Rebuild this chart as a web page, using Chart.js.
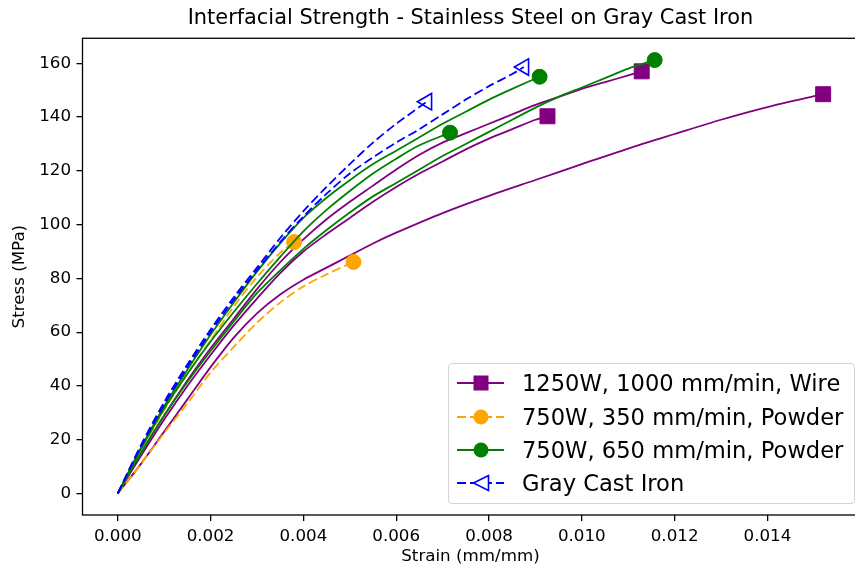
<!DOCTYPE html>
<html>
<head>
<meta charset="utf-8">
<script src="https://cdn.jsdelivr.net/npm/chart.js@4.4.1/dist/chart.umd.min.js"></script>
<style>
  html, body { margin: 0; padding: 0; background: #fff; overflow: hidden; }
  #wrap { position: relative; width: 870px; height: 570px; }
  #legend {
    position: absolute; left: 448px; top: 363px; width: 407px; height: 141px;
    box-sizing: border-box; border: 1px solid #d4d4d4; border-radius: 4px;
    background: rgba(255,255,255,0.8);
    font-family: "DejaVu Sans", sans-serif; font-size: 22.6px; color: #000;
  }
  .legend-row { position: absolute; left: 0; height: 34px; width: 100%; }
  .legend-row svg { position: absolute; left: 7px; top: 2px; }
  .legend-row span { position: absolute; left: 73px; top: 0; line-height: 34px; white-space: nowrap; }
</style>
</head>
<body>
<div id="wrap">
  <canvas id="strengthChart" width="870" height="570"></canvas>
  <div id="legend"></div>
</div>
<script>
// === Axis ticks ===
const xTicks = [0, 0.002, 0.004, 0.006, 0.008, 0.010, 0.012, 0.014];
const yTicks = [0, 20, 40, 60, 80, 100, 120, 140, 160];

// === Series names (legend) ===
const seriesNames = [
  "1250W, 1000 mm/min, Wire",
  "750W, 350 mm/min, Powder",
  "750W, 650 mm/min, Powder",
  "Gray Cast Iron"
];

// === 1250W wire samples (strain mm/mm, stress MPa) ===
const wireA_strain = [0, 0.0005, 0.001, 0.0015, 0.002, 0.0025, 0.003, 0.0035, 0.004, 0.0045, 0.005, 0.0055, 0.006, 0.0065, 0.007, 0.0075, 0.008, 0.0085, 0.009, 0.00926];
const wireA_stress = [0, 14, 27.5, 40, 51.5, 62.5, 72.5, 82, 90, 96.5, 102.5, 108.5, 114, 119, 123.5, 128, 132, 135.5, 139, 140.3];
const wireB_strain = [0, 0.0005, 0.001, 0.0015, 0.002, 0.0025, 0.003, 0.0035, 0.004, 0.0045, 0.005, 0.0055, 0.006, 0.0065, 0.007, 0.0075, 0.008, 0.0085, 0.009, 0.0095, 0.010, 0.0105, 0.011, 0.01129];
const wireB_stress = [0, 15, 29, 42, 54, 65, 76, 86, 94.5, 102, 108.5, 114.5, 120.5, 126, 130.5, 134, 137.5, 141, 144.5, 147.5, 150.5, 153, 155.5, 157];
const wireC_strain = [0, 0.0005, 0.001, 0.0015, 0.002, 0.0025, 0.003, 0.0035, 0.004, 0.0045, 0.005, 0.0055, 0.006, 0.007, 0.008, 0.009, 0.010, 0.011, 0.012, 0.013, 0.014, 0.0152];
const wireC_stress = [0, 11, 23, 35, 47, 58, 67, 74, 79.5, 84, 88.5, 93, 97, 104.3, 110.7, 116.6, 122.5, 128.3, 133.7, 139, 143.7, 148.5];

// === 750W 350 mm/min powder samples ===
const p350A_strain = [0, 0.0005, 0.001, 0.0015, 0.002, 0.0025, 0.003, 0.0035, 0.0038];
const p350A_stress = [0, 16, 31, 44.5, 57, 69.5, 80.5, 89.5, 93.5];
const p350B_strain = [0, 0.0005, 0.001, 0.0015, 0.002, 0.0025, 0.003, 0.0035, 0.004, 0.0045, 0.00508];
const p350B_stress = [0, 11, 22.5, 33.5, 45, 54.5, 63.5, 71, 77, 81.5, 86.1];

// === 750W 650 mm/min powder samples ===
const p650A_strain = [0, 0.0005, 0.001, 0.0015, 0.002, 0.0025, 0.003, 0.0035, 0.004, 0.0045, 0.005, 0.0055, 0.006, 0.0065, 0.00716];
const p650A_stress = [0, 16.5, 31.5, 44.5, 56.5, 67.5, 78, 88, 97.5, 105.5, 112.5, 119, 124.5, 129.5, 134.2];
const p650B_strain = [0, 0.0005, 0.001, 0.0015, 0.002, 0.0025, 0.003, 0.0035, 0.004, 0.0045, 0.005, 0.0055, 0.006, 0.0065, 0.007, 0.0075, 0.008, 0.0085, 0.00909];
const p650B_stress = [0, 17, 32.5, 46, 59, 71, 82.5, 93, 102.5, 110, 116.5, 122.5, 127.5, 132.5, 137.5, 142, 146.5, 150.5, 155];
const p650C_strain = [0, 0.0005, 0.001, 0.0015, 0.002, 0.0025, 0.003, 0.0035, 0.004, 0.0045, 0.005, 0.0055, 0.006, 0.0065, 0.007, 0.0075, 0.008, 0.0085, 0.009, 0.0095, 0.010, 0.0105, 0.011, 0.01157];
const p650C_stress = [0, 15, 29, 41.5, 53, 64, 74.5, 83, 91, 98, 104.5, 110.5, 115.5, 120.5, 125.5, 130, 134.5, 139, 143.5, 147.5, 151, 154.5, 158, 161.2];

// === Gray cast iron samples ===
const ironA_strain = [0, 0.0005, 0.001, 0.0015, 0.002, 0.0025, 0.003, 0.0035, 0.004, 0.0045, 0.005, 0.0055, 0.006, 0.00666];
const ironA_stress = [0, 18, 34, 48, 61, 73, 84, 95, 105, 114, 122.5, 130.5, 137.5, 145.7];
const ironB_strain = [0, 0.0005, 0.001, 0.0015, 0.002, 0.0025, 0.003, 0.0035, 0.004, 0.0045, 0.005, 0.0055, 0.006, 0.0065, 0.007, 0.0075, 0.008, 0.0085, 0.00875];
const ironB_stress = [0, 17.5, 33, 47, 60, 72, 83, 93.5, 103, 111.5, 119, 125, 130.5, 135.5, 141, 146.5, 151.5, 156, 158.6];

// === Styles per series ===
const seriesStyles = [
  { color: "#800080", dash: [], marker: "rect", radius: 10.6, fill: "#800080", rotation: 0, order: 4 },
  { color: "#ffa500", dash: [9, 4], marker: "circle", radius: 7.5, fill: "#ffa500", rotation: 0, order: 3 },
  { color: "#008000", dash: [], marker: "circle", radius: 7.5, fill: "#008000", rotation: 0, order: 2 },
  { color: "#0000ff", dash: [9, 4], marker: "triangle", radius: 9.5, fill: "rgba(0,0,0,0)", rotation: -90, order: 1 }
];

const seriesCurves = [
  [[wireA_strain, wireA_stress], [wireB_strain, wireB_stress], [wireC_strain, wireC_stress]],
  [[p350A_strain, p350A_stress], [p350B_strain, p350B_stress]],
  [[p650A_strain, p650A_stress], [p650B_strain, p650B_stress], [p650C_strain, p650C_stress]],
  [[ironA_strain, ironA_stress], [ironB_strain, ironB_stress]]
];

const FONT = "'DejaVu Sans', sans-serif";

// === Build datasets: one line per sample, marker only at its last point ===
function buildDatasets() {
  const datasets = [];
  seriesCurves.forEach((curves, s) => {
    const st = seriesStyles[s];
    curves.forEach(([xs, ys]) => {
      const last = xs.length - 1;
      datasets.push({
        label: seriesNames[s],
        data: xs.map((x, i) => ({ x, y: ys[i] })),
        showLine: true,
        borderColor: st.color,
        borderWidth: 1.8,
        borderDash: st.dash,
        tension: 0.3,
        order: st.order,
        pointStyle: st.marker,
        pointRotation: st.rotation,
        pointRadius: (c) => (c.dataIndex === last ? st.radius : 0),
        pointHoverRadius: (c) => (c.dataIndex === last ? st.radius : 0),
        pointBackgroundColor: st.fill,
        pointBorderColor: st.color,
        pointBorderWidth: st.marker === "triangle" ? 1.6 : 1
      });
    });
  });
  return datasets;
}

// === Frame around the plot area (matplotlib spines) ===
const framePlugin = {
  id: "frame",
  afterDatasetsDraw(chart) {
    const { ctx, chartArea: a } = chart;
    ctx.save();
    ctx.strokeStyle = "#000";
    ctx.lineWidth = 1.3;
    ctx.strokeRect(a.left, a.top, a.right - a.left, a.bottom - a.top);
    ctx.restore();
  }
};

// === Chart ===
const ctx = document.getElementById("strengthChart").getContext("2d");
window.strengthChart = new Chart(ctx, {
  type: "scatter",
  data: { datasets: buildDatasets() },
  plugins: [framePlugin],
  options: {
    responsive: false,
    animation: false,
    devicePixelRatio: 1,
    layout: { padding: { left: 0, right: 4, top: 0, bottom: 0 } },
    plugins: {
      legend: { display: false },
      tooltip: { enabled: false },
      title: {
        display: true,
        fullSize: false,
        text: "Interfacial Strength - Stainless Steel on Gray Cast Iron",
        color: "#000",
        font: { family: FONT, size: 20.9, weight: "normal" },
        padding: { top: 5.8, bottom: 7.4 }
      }
    },
    scales: {
      x: {
        type: "linear",
        min: -0.00076,
        max: 0.01596,
        afterBuildTicks: (scale) => { scale.ticks = xTicks.map(v => ({ value: v })); },
        afterFit: (scale) => { scale.height = 55; },
        grid: { display: true, drawOnChartArea: false, drawTicks: true, tickLength: 6, color: "#000", lineWidth: 1.3 },
        border: { display: false },
        ticks: {
          color: "#000",
          padding: 6,
          maxRotation: 0,
          font: { family: FONT, size: 16.7 },
          callback: (v) => v.toFixed(3)
        },
        title: {
          display: true,
          text: "Strain (mm/mm)",
          color: "#000",
          font: { family: FONT, size: 16.7 },
          padding: { top: 0, bottom: 3 }
        }
      },
      y: {
        type: "linear",
        min: -8,
        max: 169.3,
        afterBuildTicks: (scale) => { scale.ticks = yTicks.map(v => ({ value: v })); },
        afterFit: (scale) => { scale.width = 82.5; },
        grid: { display: true, drawOnChartArea: false, drawTicks: true, tickLength: 6, color: "#000", lineWidth: 1.3 },
        border: { display: false },
        ticks: {
          color: "#000",
          padding: 5.5,
          font: { family: FONT, size: 16.7 },
          callback: (v) => String(v)
        },
        title: {
          display: true,
          text: "Stress (MPa)",
          color: "#000",
          font: { family: FONT, size: 16.7 },
          padding: { top: 10, bottom: 0 }
        }
      }
    }
  }
});

// === Legend (line + marker handles, like matplotlib) ===
function markerSvg(st) {
  const cx = 25, cy = 15;
  if (st.marker === "rect") {
    return `<rect x="${cx - 7.5}" y="${cy - 7.5}" width="15" height="15" fill="${st.fill}"/>`;
  }
  if (st.marker === "circle") {
    return `<circle cx="${cx}" cy="${cy}" r="7.5" fill="${st.fill}"/>`;
  }
  return `<polygon points="${cx - 7.5},${cy} ${cx + 7.5},${cy - 7.5} ${cx + 7.5},${cy + 7.5}" fill="#fff" stroke="${st.color}" stroke-width="1.6"/>`;
}

function buildLegend() {
  const box = document.getElementById("legend");
  const centers = [19.3, 52.7, 86, 119.3];
  box.innerHTML = seriesNames.map((name, i) => {
    const st = seriesStyles[i];
    const dash = st.dash.length ? `stroke-dasharray="${st.dash.join(" ")}"` : "";
    return `
      <div class="legend-row" style="top:${centers[i] - 17}px">
        <svg width="50" height="30">
          <line x1="1" y1="15" x2="48" y2="15" stroke="${st.color}" stroke-width="2" ${dash}/>
          ${markerSvg(st)}
        </svg>
        <span>${name}</span>
      </div>`;
  }).join("");
}

buildLegend();
</script>
</body>
</html>
